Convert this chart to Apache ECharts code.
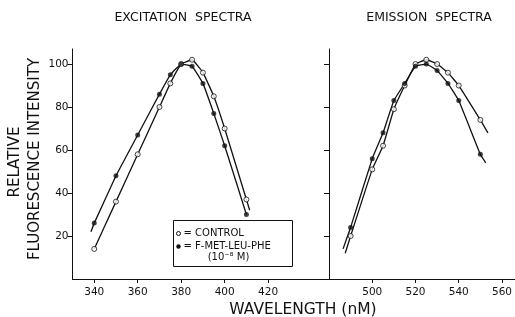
<!DOCTYPE html>
<html>
<head>
<meta charset="utf-8">
<script src="https://cdn.jsdelivr.net/npm/echarts@6/dist/echarts.min.js"></script>
<style>
  html, body { margin: 0; padding: 0; background: #fff; }
  #chart { width: 515px; height: 317px; }
</style>
</head>
<body>
<div id="chart"></div>
<script>
// 激发光谱 (excitation)
const exWave = [340, 350, 360, 370, 375, 380, 385, 390, 395, 400, 410];
const exControl = [14, 36, 58, 80, 91, 100, 102, 96, 85, 70, 37];
const exFmlp = [26, 48, 67, 86, 95, 100, 99, 91, 77, 62, 30];
// 发射光谱 (emission)
const emWave = [490, 500, 505, 510, 515, 520, 525, 530, 535, 540, 550];
const emControl = [20, 51, 62, 79, 90, 100, 102, 100, 96, 90, 74];
const emFmlp = [24, 56, 68, 83, 91, 99, 100, 97, 91, 83, 58];
// ends of the hand drawn curves, past the first / last point
const exControlEnds = [null, [411.5, 32]];
const exFmlpEnds = [[338.5, 22], null];
const emControlEnds = [[487.5, 12], [553.5, 68]];
const emFmlpEnds = [[486.5, 14], [552.5, 54]];
// tick labels
const exTicks = [340, 360, 380, 400, 420];
const emTicks = [500, 520, 540, 560];
const yTicks = [20, 40, 60, 80, 100];

const FONT = 'DejaVu Sans';
const INK = '#111';

function pairs(xs, ys) {
  return xs.map((x, i) => [x, ys[i]]);
}
function curve(xs, ys, ends) {
  let pts = pairs(xs, ys);
  if (ends[0]) pts.unshift(ends[0]);
  if (ends[1]) pts.push(ends[1]);
  return pts;
}

function xAxisOf(idx, min, max, ticks) {
  return {
    type: 'value',
    gridIndex: idx,
    min: min,
    max: max,
    axisLine: { lineStyle: { color: INK, width: 1 } },
    axisTick: { customValues: ticks, length: 4, lineStyle: { color: INK } },
    axisLabel: { customValues: ticks, color: INK, fontFamily: FONT, fontSize: 10.5, margin: 8 },
    splitLine: { show: false }
  };
}
function yAxisOf(idx, showLabel) {
  return {
    type: 'value',
    gridIndex: idx,
    min: 0,
    max: 107,
    axisLine: { show: true, lineStyle: { color: INK, width: 1 } },
    axisTick: { customValues: yTicks, length: 5, lineStyle: { color: INK } },
    axisLabel: { show: showLabel, customValues: yTicks, color: INK, fontFamily: FONT, fontSize: 10.5, margin: 4 },
    splitLine: { show: false }
  };
}
function lineOf(idx, data) {
  return {
    type: 'line',
    xAxisIndex: idx,
    yAxisIndex: idx,
    data: data,
    smooth: 0.1,
    showSymbol: false,
    lineStyle: { color: INK, width: 1.3 },
    z: 2
  };
}
function dotsOf(idx, data, filled) {
  return {
    type: 'scatter',
    xAxisIndex: idx,
    yAxisIndex: idx,
    data: data,
    symbol: 'circle',
    symbolSize: 5,
    itemStyle: filled
      ? { color: INK }
      : { color: '#fff', borderColor: INK, borderWidth: 1 },
    z: 3
  };
}
function label(text, x, y, size, rot) {
  return {
    type: 'text',
    x: x,
    y: y,
    rotation: rot || 0,
    style: {
      text: text,
      fontFamily: FONT,
      fontSize: size,
      fill: INK,
      align: 'center',
      verticalAlign: 'middle'
    }
  };
}

const chart = echarts.init(document.getElementById('chart'));
const option = {
  backgroundColor: '#fff',
  animation: false,
  grid: [
    { left: 72.5, top: 49, width: 256.5, height: 230 },
    { left: 329, top: 49, width: 186, height: 230 }
  ],
  xAxis: [
    xAxisOf(0, 330, 448, exTicks),
    xAxisOf(1, 480, 566, emTicks)
  ],
  yAxis: [yAxisOf(0, true), yAxisOf(1, false)],
  series: [
    lineOf(0, curve(exWave, exControl, exControlEnds)),
    lineOf(0, curve(exWave, exFmlp, exFmlpEnds)),
    lineOf(1, curve(emWave, emControl, emControlEnds)),
    lineOf(1, curve(emWave, emFmlp, emFmlpEnds)),
    dotsOf(0, pairs(exWave, exControl), false),
    dotsOf(0, pairs(exWave, exFmlp), true),
    dotsOf(1, pairs(emWave, emControl), false),
    dotsOf(1, pairs(emWave, emFmlp), true)
  ],
  graphic: [
    label('EXCITATION  SPECTRA', 183, 18, 12.5),
    label('EMISSION  SPECTRA', 429, 18, 12.5),
    label('RELATIVE', 15, 162, 15, Math.PI / 2),
    label('FLUORESCENCE INTENSITY', 35, 159, 15, Math.PI / 2),
    label('WAVELENGTH (nM)', 303, 310, 15.5),
    // legend box
    {
      type: 'group',
      left: 173,
      top: 220,
      children: [
        { type: 'rect', shape: { x: 0, y: 0, width: 119, height: 46 }, style: { fill: '#fff', stroke: INK, lineWidth: 1 } },
        { type: 'circle', shape: { cx: 5, cy: 13, r: 2 }, style: { fill: '#fff', stroke: INK, lineWidth: 1 } },
        { type: 'text', x: 10, y: 13, style: { text: '= CONTROL', fontFamily: FONT, fontSize: 10, fill: INK, verticalAlign: 'middle' } },
        { type: 'circle', shape: { cx: 5, cy: 26, r: 2.2 }, style: { fill: INK } },
        { type: 'text', x: 10, y: 26, style: { text: '= F-MET-LEU-PHE', fontFamily: FONT, fontSize: 10, fill: INK, verticalAlign: 'middle' } },
        { type: 'text', x: 55, y: 37, style: { text: '(10⁻⁸ M)', fontFamily: FONT, fontSize: 10, fill: INK, align: 'center', verticalAlign: 'middle' } }
      ]
    }
  ]
};
chart.setOption(option);
</script>
</body>
</html>
